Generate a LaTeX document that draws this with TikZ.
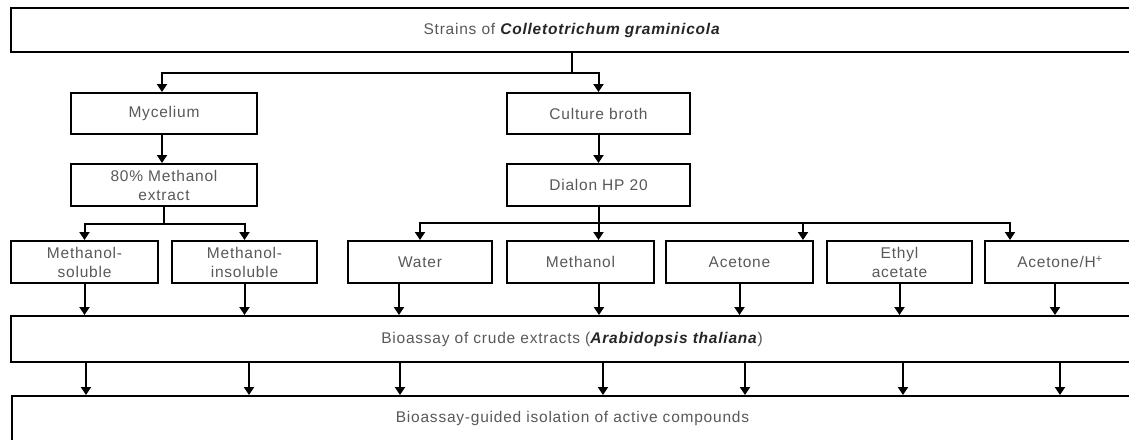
\documentclass[tikz,border=0pt]{standalone}
\usepackage{fontspec}
\setmainfont{Liberation Sans}[LetterSpace=5]
\usetikzlibrary{arrows.meta,calc}
\begin{document}
\begin{tikzpicture}[x=1pt,y=-1pt,
  box/.style={draw=black,line width=2pt,fill=white,inner sep=0pt,align=center,
    text=black!65,font=\fontsize{15.5}{20}\selectfont},
  arr/.style={line width=2pt,-{Triangle[width=10pt,length=8pt]}},
  ln/.style={line width=2pt}]
\useasboundingbox (0,0) rectangle (1129,439);
\clip (0,0) rectangle (1129,439);
% boxes
\node[box,minimum width=1122pt,minimum height=44pt] (top) at (572,30) {Strains of \textcolor{black!85}{\textbf{\textit{Colletotrichum graminicola}}}};
\node[box,minimum width=186pt,minimum height=41pt] (myc) at (164,113.5) {Mycelium};
\node[box,minimum width=186pt,minimum height=42pt] (ext) at (164,185) {80\% Methanol\\[-1pt]extract};
\node[box,minimum width=183pt,minimum height=41pt] (cul) at (598.5,113.5) {Culture broth};
\node[box,minimum width=183pt,minimum height=42pt] (dia) at (598.5,185) {Dialon HP 20};
\node[box,minimum width=147pt,minimum height=42pt] (sol) at (84.5,262) {Methanol-\\[-1pt]soluble};
\node[box,minimum width=145pt,minimum height=42pt] (ins) at (244.5,262) {Methanol-\\[-1pt]insoluble};
\node[box,minimum width=144pt,minimum height=42pt] (wat) at (420,262) {Water};
\node[box,minimum width=147pt,minimum height=42pt] (met) at (580.5,262) {Methanol};
\node[box,minimum width=147pt,minimum height=42pt] (ace) at (739.5,262) {Acetone};
\node[box,minimum width=145pt,minimum height=42pt] (eth) at (899.5,262) {Ethyl\\[-1pt]acetate};
\node[box,minimum width=150pt,minimum height=42pt] (ach) at (1060,262) {Acetone/H\textsuperscript{+}};
\node[box,minimum width=1122pt,minimum height=46pt] (bio) at (572,339) {Bioassay of crude extracts (\textcolor{black!85}{\textbf{\textit{Arabidopsis thaliana}}})};
\node[box,minimum width=1121pt,minimum height=45pt] (fin) at (572.5,418.5) {Bioassay-guided isolation of active compounds};
% connectors
\coordinate (j1) at ($(top.south)+(0,20)$);
\draw[ln] (top.south) -- (j1);
\draw[arr] (j1) -| ([xshift=-2pt]myc.north);
\draw[arr] (j1) -| (cul.north);
\draw[arr] ([xshift=-2pt]myc.south) -- ([xshift=-2pt]ext.north);
\draw[arr] (cul.south) -- (dia.north);
\coordinate (j2) at ($(ext.south)+(0,17)$);
\draw[ln] (ext.south) -- (j2);
\draw[arr] (j2) -| (sol.north);
\draw[arr] (j2) -| (ins.north);
\coordinate (j3) at ($(dia.south)+(0,16)$);
\draw[ln] (dia.south) -- (j3);
\draw[arr] (j3) -| (wat.north);
\draw[arr] (j3) -- (j3 |- met.north);
\draw[arr] (j3) -| ([xshift=63.5pt]ace.north);
\draw[arr] (j3) -| ([xshift=-50pt]ach.north);
% to bioassay
\draw[arr] (sol.south) -- (sol.south |- bio.north);
\draw[arr] (ins.south) -- (ins.south |- bio.north);
\draw[arr] ([xshift=-21pt]wat.south) -- ([xshift=-21pt]wat.south |- bio.north);
\draw[arr] ([xshift=18.5pt]met.south) -- ([xshift=18.5pt]met.south |- bio.north);
\draw[arr] (ace.south) -- (ace.south |- bio.north);
\draw[arr] (eth.south) -- (eth.south |- bio.north);
\draw[arr] ([xshift=-5pt]ach.south) -- ([xshift=-5pt]ach.south |- bio.north);
% to final
\foreach \x in {86,249,400,603,745,903,1060}
  \draw[arr] (bio.south -| \x,0) -- (fin.north -| \x,0);
\end{tikzpicture}
\end{document}
